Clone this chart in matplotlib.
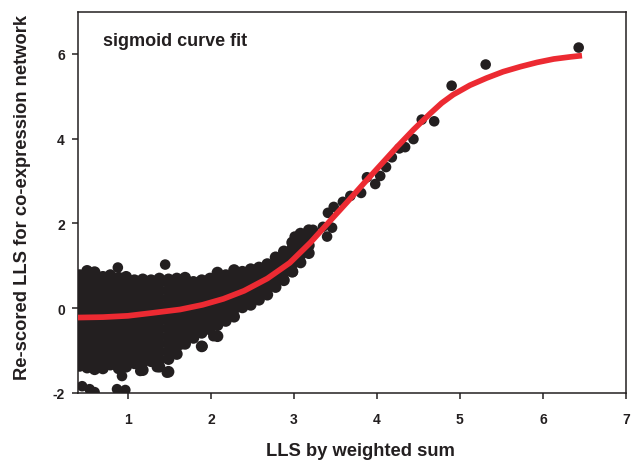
import numpy as np
import matplotlib
matplotlib.use("Agg")
import matplotlib.pyplot as plt

plt.rcParams['font.family'] = ['Liberation Sans', 'DejaVu Sans']
plt.rcParams['font.weight'] = 'bold'
plt.rcParams['axes.labelweight'] = 'bold'
plt.rcParams['axes.unicode_minus'] = False

# dense cloud, read column by column (x, then y values of that column)
col_x = [0.42, 0.51, 0.60, 0.70, 0.79, 0.89, 0.98, 1.08, 1.18, 1.28, 1.38, 1.49, 1.59,
         1.69, 1.79, 1.89, 1.99, 2.08, 2.18, 2.28, 2.38, 2.48, 2.58, 2.68, 2.78, 2.88,
         2.98, 3.08, 3.18]
col_y = [
    [-1.36, -1.18, -1.0, -0.82, -0.64, -0.46, -0.28, -0.1, 0.08, 0.26, 0.44, 0.62, 0.78],
    [-1.40, -1.22, -1.03, -0.85, -0.67, -0.49, -0.31, -0.13, 0.05, 0.23, 0.41, 0.59, 0.77, 0.88],
    [-1.44, -1.25, -1.07, -0.9, -0.71, -0.53, -0.35, -0.17, 0.01, 0.19, 0.37, 0.55, 0.73, 0.85],
    [-1.42, -1.24, -1.06, -0.88, -0.7, -0.52, -0.34, -0.16, 0.02, 0.2, 0.38, 0.56, 0.74],
    [-1.33, -1.15, -0.97, -0.79, -0.61, -0.43, -0.25, -0.07, 0.11, 0.29, 0.47, 0.65, 0.78],
    [-1.42, -1.24, -1.06, -0.88, -0.7, -0.52, -0.34, -0.16, 0.02, 0.2, 0.38, 0.56, 0.72],
    [-1.38, -1.2, -1.02, -0.84, -0.66, -0.48, -0.3, -0.12, 0.06, 0.24, 0.42, 0.6, 0.74],
    [-1.3, -1.12, -0.94, -0.76, -0.58, -0.4, -0.22, -0.04, 0.14, 0.32, 0.5, 0.66],
    [-1.46, -1.27, -1.09, -0.91, -0.73, -0.55, -0.37, -0.19, -0.01, 0.17, 0.35, 0.53, 0.68],
    [-1.25, -1.07, -0.89, -0.71, -0.53, -0.35, -0.17, 0.01, 0.19, 0.37, 0.55, 0.66],
    [-1.38, -1.2, -1.02, -0.84, -0.66, -0.48, -0.3, -0.12, 0.06, 0.24, 0.42, 0.6, 0.7],
    [-1.5, -1.2, -1.02, -0.84, -0.66, -0.48, -0.3, -0.12, 0.06, 0.24, 0.42, 0.6, 0.68],
    [-1.08, -0.9, -0.72, -0.54, -0.36, -0.18, 0.0, 0.18, 0.36, 0.54, 0.7],
    [-0.84, -0.66, -0.48, -0.3, -0.12, 0.06, 0.24, 0.42, 0.6, 0.72],
    [-0.7, -0.52, -0.34, -0.16, 0.02, 0.2, 0.38, 0.56, 0.62],
    [-0.9, -0.58, -0.4, -0.22, -0.04, 0.14, 0.32, 0.5, 0.66],
    [-0.5, -0.32, -0.14, 0.04, 0.22, 0.4, 0.58, 0.7],
    [-0.66, -0.4, -0.22, -0.04, 0.14, 0.32, 0.5, 0.72, 0.84],
    [-0.3, -0.12, 0.06, 0.24, 0.42, 0.6, 0.78],
    [-0.2, -0.02, 0.16, 0.34, 0.52, 0.7, 0.9],
    [0.02, 0.2, 0.38, 0.56, 0.74, 0.86],
    [0.08, 0.26, 0.44, 0.62, 0.8, 0.92],
    [0.2, 0.38, 0.56, 0.74, 0.96],
    [0.32, 0.5, 0.68, 0.86, 1.04],
    [0.5, 0.68, 0.86, 1.04, 1.2],
    [0.66, 0.84, 1.02, 1.2, 1.34],
    [0.86, 1.04, 1.22, 1.4, 1.55],
    [1.08, 1.26, 1.44, 1.62, 1.76],
    [1.3, 1.48, 1.66, 1.84],
]

# scattered points outside the dense cloud
extra_x = [0.88, 1.45, 0.45, 0.54, 0.60, 0.87, 0.97, 1.35, 1.47, 1.15, 0.93, 1.65, 1.90, 2.03,
           2.99, 3.01, 3.23, 3.35, 3.40, 3.46, 3.41, 3.48, 3.59, 3.68, 3.81, 3.88, 3.98, 4.04,
           4.11, 4.18, 4.27, 4.34, 4.44, 4.54, 4.69, 4.90, 5.31, 6.43]
extra_y = [0.96, 1.03, -1.84, -1.91, -1.98, -1.91, -1.93, -1.39, -1.52, -1.48, -1.60, -0.85, -0.90, -0.66,
           0.86, 1.69, 1.85, 1.92, 1.69, 1.90, 2.25, 2.39, 2.51, 2.65, 2.72, 3.09, 2.93, 3.12,
           3.33, 3.56, 3.77, 3.80, 3.99, 4.45, 4.41, 5.25, 5.75, 6.15]

# sigmoid fit
fit_x = [0.40, 0.70, 1.00, 1.30, 1.63, 1.90, 2.15, 2.40, 2.68, 2.95, 3.20, 3.44, 3.64,
         3.84, 4.04, 4.24, 4.44, 4.64, 4.78, 4.92, 5.12, 5.32, 5.52, 5.73, 5.93, 6.13,
         6.33, 6.47]
fit_y = [-0.22, -0.21, -0.18, -0.11, -0.03, 0.08, 0.22, 0.41, 0.70, 1.07, 1.55, 2.07, 2.50,
         2.94, 3.37, 3.80, 4.21, 4.59, 4.84, 5.04, 5.26, 5.43, 5.58, 5.70, 5.80, 5.88,
         5.93, 5.96]

cloud_x = np.repeat(col_x, [len(c) for c in col_y])
cloud_y = np.concatenate(col_y)

ink = '#231f20'
fig = plt.figure(figsize=(6.32, 4.64), dpi=100)
ax = fig.add_axes([0.1234, 0.1509, 0.8671, 0.8221])

ax.scatter(cloud_x, cloud_y, s=72, c=ink, edgecolors='none', zorder=2)
ax.scatter(extra_x, extra_y, s=58, c=ink, edgecolors='none', zorder=2)
ax.plot(fit_x, fit_y, color='#ec2a32', lw=4.1, solid_capstyle='butt',
        solid_joinstyle='round', zorder=3)

ax.set_xlim(0.4, 7)
ax.set_ylim(-2, 7)
ax.set_xticks([1, 2, 3, 4, 5, 6, 7])
ax.set_yticks([-2, 0, 2, 4, 6])
ax.tick_params(axis='x', direction='out', length=4.5, width=1.1, colors=ink, labelsize=10, pad=9)
ax.tick_params(axis='y', direction='out', length=4.5, width=1.1, colors=ink, labelsize=10, pad=5)
for s in ax.spines.values():
    s.set_linewidth(1.1)
    s.set_color(ink)

ax.set_xlabel('LLS by weighted sum', fontsize=13.2, color=ink)
ax.set_ylabel('Re-scored LLS for co-expression network', fontsize=13.2, color=ink)
ax.xaxis.set_label_coords(0.516, -0.128)
ax.yaxis.set_label_coords(-0.086, 0.516)
ax.text(0.046, 0.911, 'sigmoid curve fit', transform=ax.transAxes, fontsize=13,
        color=ink, va='baseline')

fig.savefig('out.png', dpi=100)
